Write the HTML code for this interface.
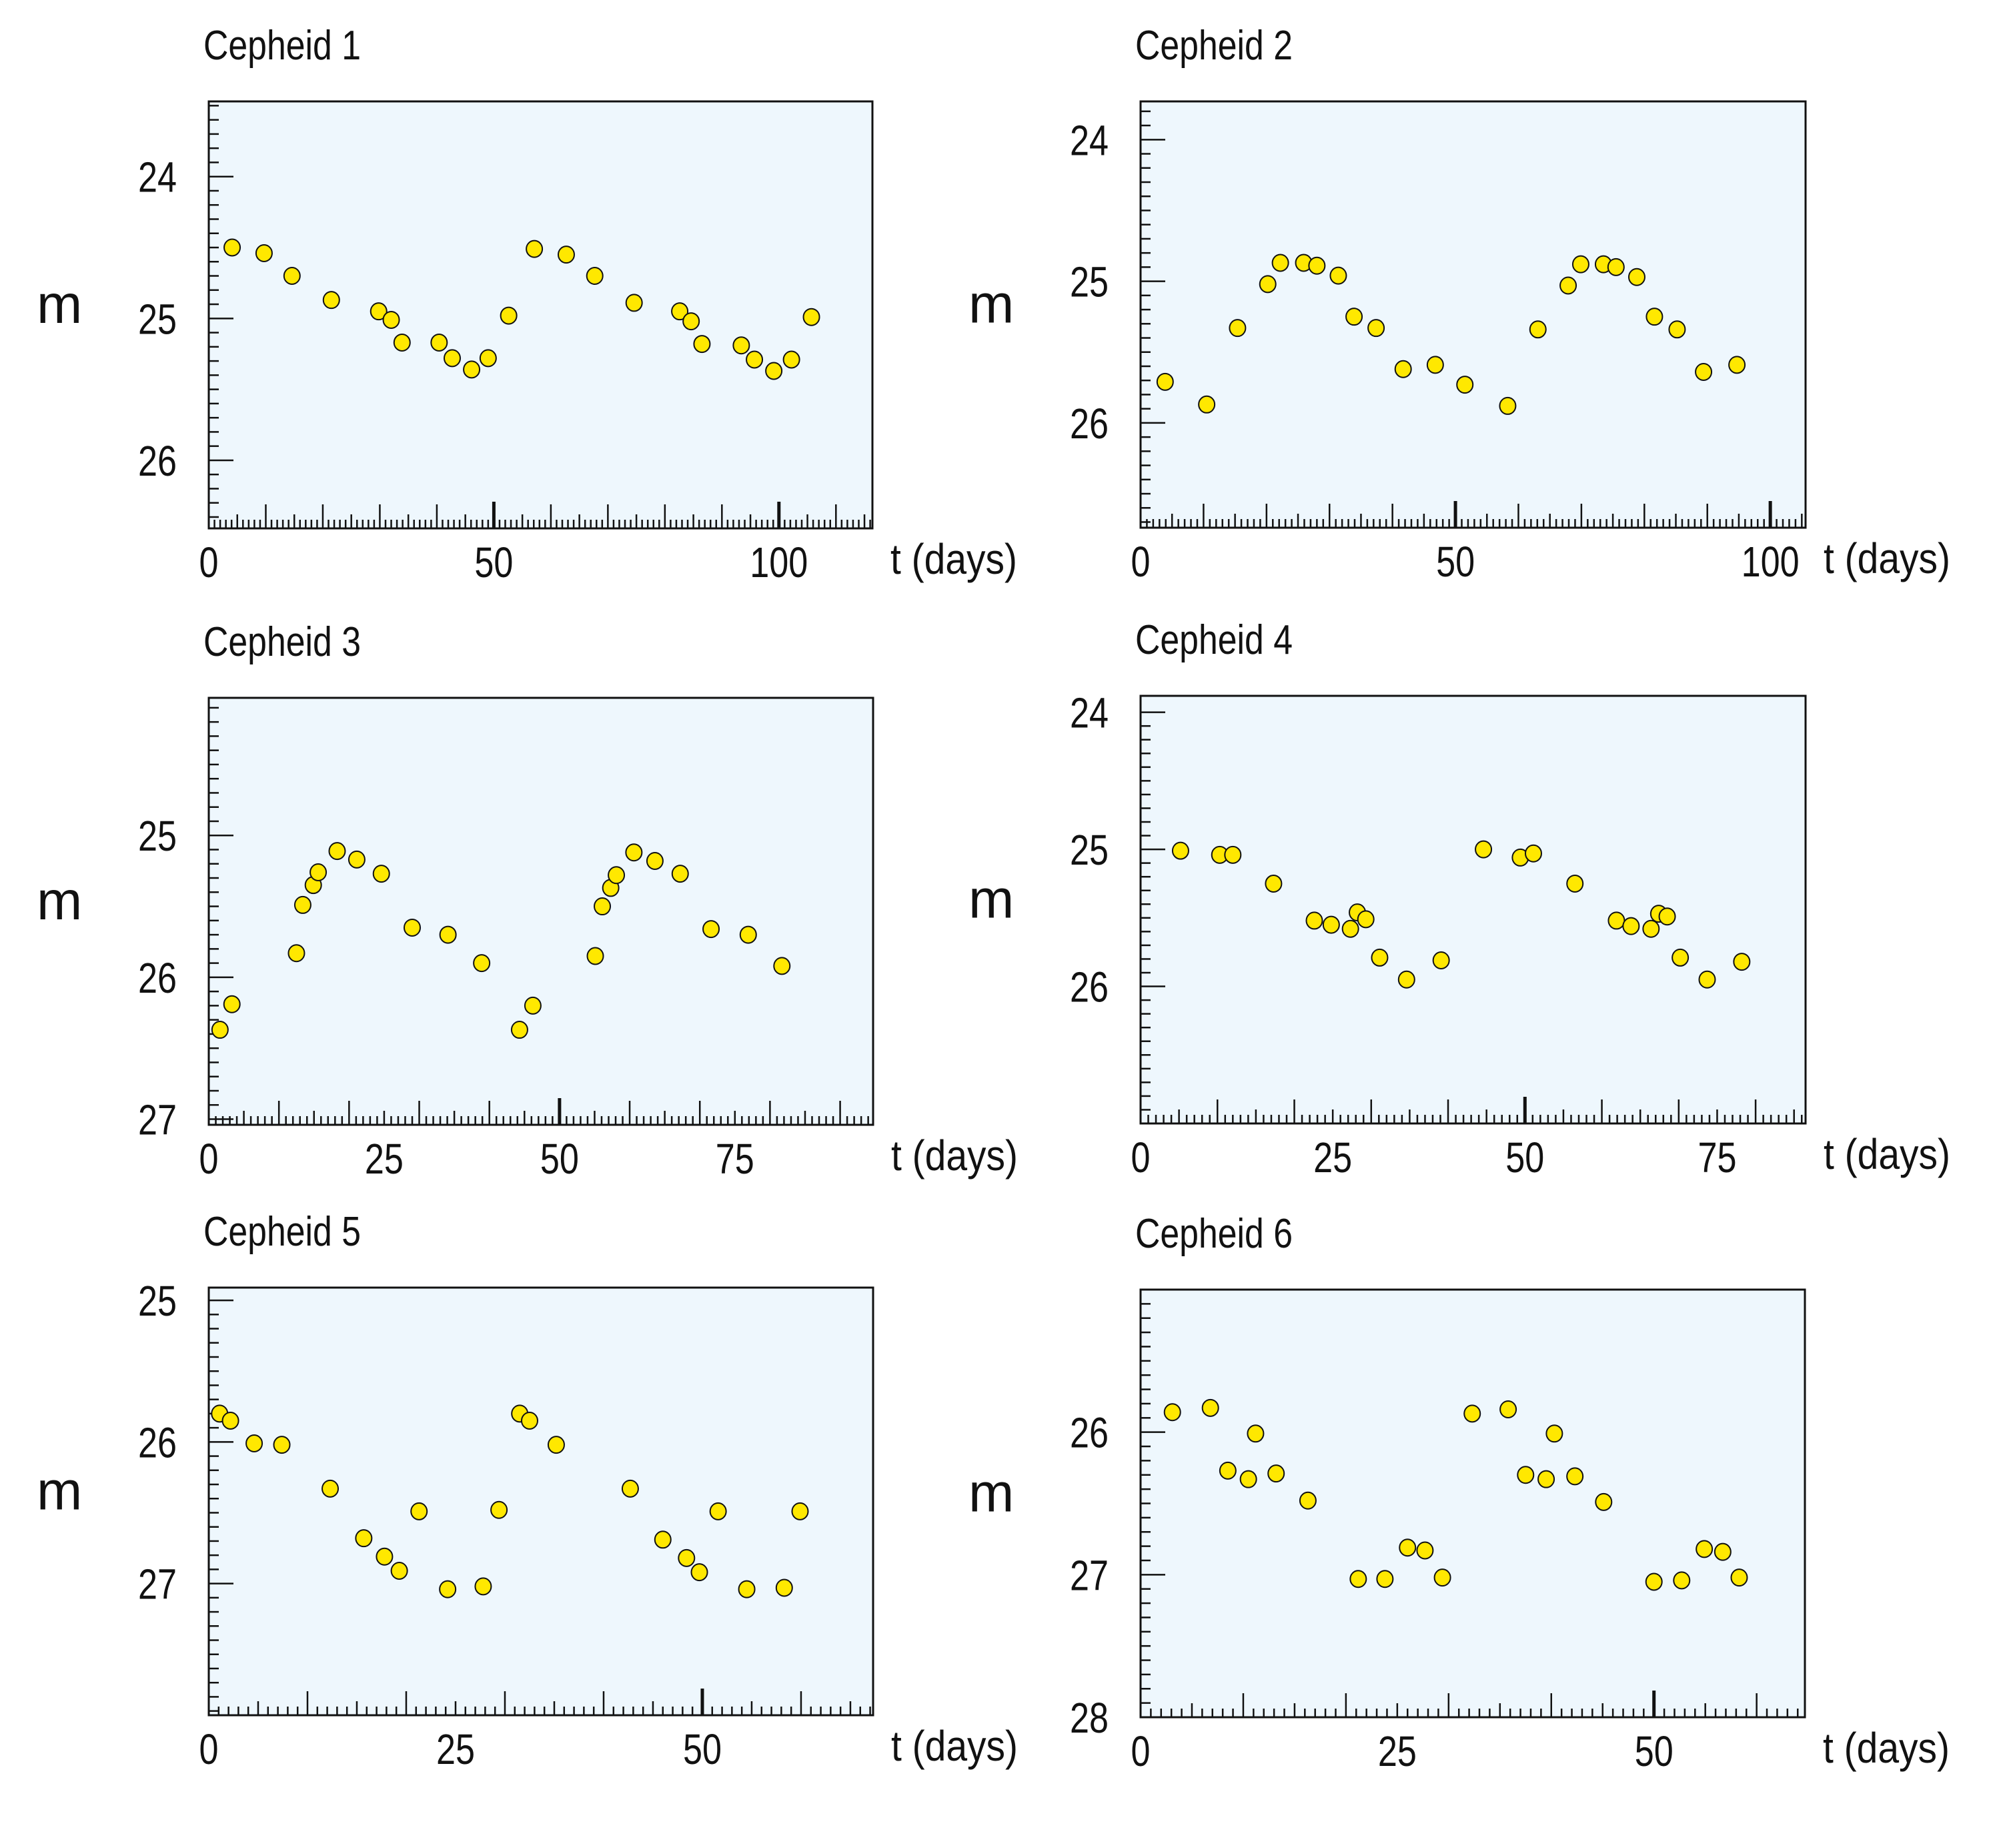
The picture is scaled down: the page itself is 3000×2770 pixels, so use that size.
<!DOCTYPE html>
<html><head><meta charset="utf-8"><title>Cepheid light curves</title>
<style>
html,body{margin:0;padding:0;background:#fff;}
svg{display:block;font-family:"Liberation Sans","DejaVu Sans",sans-serif;}
</style></head>
<body>
<svg id="chart" xmlns="http://www.w3.org/2000/svg" width="3000" height="2770" viewBox="0 0 3000 2770">
<rect x="0" y="0" width="3000" height="2770" fill="#ffffff"/>
</svg>
<script>
// ---- data ----
const c1Days = [4.1, 9.7, 14.6, 21.5, 29.8, 32.0, 33.9, 40.4, 42.7, 46.1, 49.0, 52.6, 57.1, 62.7, 67.7, 74.6, 82.6, 84.6, 86.5, 93.4, 95.7, 99.1, 102.2, 105.7];
const c1Mags = [24.50, 24.54, 24.70, 24.87, 24.95, 25.01, 25.17, 25.17, 25.28, 25.36, 25.28, 24.98, 24.51, 24.55, 24.70, 24.89, 24.95, 25.02, 25.18, 25.19, 25.29, 25.37, 25.29, 24.99];
const c2Days = [3.9, 10.5, 15.4, 20.2, 22.2, 25.9, 28.0, 31.4, 33.9, 37.4, 41.7, 46.8, 51.5, 58.3, 63.1, 67.9, 69.9, 73.5, 75.5, 78.8, 81.6, 85.2, 89.4, 94.7];
const c2Mags = [25.71, 25.87, 25.33, 25.02, 24.87, 24.87, 24.89, 24.96, 25.25, 25.33, 25.62, 25.59, 25.73, 25.88, 25.34, 25.03, 24.88, 24.88, 24.90, 24.97, 25.25, 25.34, 25.64, 25.59];
const c3Days = [1.6, 3.3, 12.5, 13.4, 14.9, 15.6, 18.3, 21.1, 24.6, 29.0, 34.1, 38.9, 44.3, 46.2, 55.1, 56.1, 57.3, 58.1, 60.6, 63.6, 67.2, 71.6, 76.9, 81.7];
const c3Mags = [26.37, 26.19, 25.83, 25.49, 25.35, 25.26, 25.11, 25.17, 25.27, 25.65, 25.70, 25.90, 26.37, 26.20, 25.85, 25.50, 25.37, 25.28, 25.12, 25.18, 25.27, 25.66, 25.70, 25.92];
const c4Days = [5.2, 10.3, 12.0, 17.3, 22.6, 24.8, 27.3, 28.2, 29.3, 31.1, 34.6, 39.1, 44.6, 49.4, 51.1, 56.5, 61.9, 63.8, 66.4, 67.4, 68.5, 70.2, 73.7, 78.2];
const c4Mags = [25.01, 25.04, 25.04, 25.25, 25.52, 25.55, 25.58, 25.46, 25.51, 25.79, 25.95, 25.81, 25.00, 25.06, 25.03, 25.25, 25.52, 25.56, 25.58, 25.47, 25.49, 25.79, 25.95, 25.82];
const c5Days = [1.1, 2.2, 4.6, 7.4, 12.3, 15.7, 17.8, 19.3, 21.3, 24.2, 27.8, 29.4, 31.5, 32.5, 35.2, 42.7, 46.0, 48.4, 49.7, 51.6, 54.5, 58.3, 59.9];
const c5Mags = [25.80, 25.85, 26.01, 26.02, 26.33, 26.68, 26.81, 26.91, 26.49, 27.04, 27.02, 26.48, 25.80, 25.85, 26.02, 26.33, 26.69, 26.82, 26.92, 26.49, 27.04, 27.03, 26.49];
const c6Days = [3.1, 6.8, 8.5, 10.5, 11.2, 13.2, 16.3, 21.2, 23.8, 26.0, 27.7, 29.4, 32.3, 35.8, 37.5, 39.5, 40.3, 42.3, 45.1, 50.0, 52.7, 54.9, 56.7, 58.3];
const c6Mags = [25.86, 25.83, 26.27, 26.33, 26.01, 26.29, 26.48, 27.03, 27.03, 26.81, 26.83, 27.02, 25.87, 25.84, 26.30, 26.33, 26.01, 26.31, 26.49, 27.05, 27.04, 26.82, 26.84, 27.02];
const c1XTicks = [0, 50, 100];
const c2XTicks = [0, 50, 100];
const c3XTicks = [0, 25, 50, 75];
const c4XTicks = [0, 25, 50, 75];
const c5XTicks = [0, 25, 50];
const c6XTicks = [0, 25, 50];
const c1YTicks = [24, 25, 26];
const c2YTicks = [24, 25, 26];
const c3YTicks = [25, 26, 27];
const c4YTicks = [24, 25, 26];
const c5YTicks = [25, 26, 27];
const c6YTicks = [26, 27, 28];
const titles = ["Cepheid 1", "Cepheid 2", "Cepheid 3", "Cepheid 4", "Cepheid 5", "Cepheid 6"];
const xMaxes = [116.4, 105.6, 94.7, 86.5, 67.3, 64.7];
const yMins = [23.47, 23.73, 24.03, 23.88, 24.91, 25.0];
const yMaxes = [26.48, 26.74, 27.04, 27.0, 27.93, 28.0];

// ---- layout (frames in pixels) ----
const frames = [
  {x:313, y:152, w:995, h:640},
  {x:1710, y:152, w:997, h:639},
  {x:313, y:1046, w:996, h:640},
  {x:1710, y:1043, w:997, h:641},
  {x:313, y:1930, w:996, h:641},
  {x:1710, y:1933, w:996, h:641}
];
const daysSets = [c1Days, c2Days, c3Days, c4Days, c5Days, c6Days];
const magSets = [c1Mags, c2Mags, c3Mags, c4Mags, c5Mags, c6Mags];
const xTickSets = [c1XTicks, c2XTicks, c3XTicks, c4XTicks, c5XTicks, c6XTicks];
const yTickSets = [c1YTicks, c2YTicks, c3YTicks, c4YTicks, c5YTicks, c6YTicks];

const NS = "http://www.w3.org/2000/svg";
const svg = document.getElementById("chart");
function mk(tag, attrs, parent) {
  const e = document.createElementNS(NS, tag);
  for (const k in attrs) e.setAttribute(k, attrs[k]);
  parent.appendChild(e);
  return e;
}

for (let p = 0; p < 6; p++) {
  const f = frames[p];
  const xScale = d => f.x + d / xMaxes[p] * f.w;
  const yScale = m => f.y + (m - yMins[p]) / (yMaxes[p] - yMins[p]) * f.h;

  const g = mk("g", {}, svg);
  
  

  const bg = mk("rect", {x:f.x, y:f.y, width:f.w, height:f.h, fill:"#eef7fd", stroke:"#111", "stroke-width":3}, g);
  
  

  // title
  const t = mk("text", {x:f.x - 8, y:f.y - 63, "font-size":62, fill:"#111", textLength:236, lengthAdjust:"spacingAndGlyphs"}, g);
  t.textContent = titles[p];
  
  

  // y label m
  const ml = mk("text", {x:f.x - 258, y:f.y + f.h / 2 + 12, "font-size":82, fill:"#111"}, g);
  ml.textContent = "m";
  
  

  // x label
  const xl = mk("text", {x:f.x + f.w + 27, y:f.y + f.h + 68, "font-size":64, fill:"#111", textLength:190, lengthAdjust:"spacingAndGlyphs"}, g);
  xl.textContent = "t (days)";
  
  

  // y ticks
  const yAxis = mk("g", {stroke:"#111", "stroke-width":2.5}, g);
  
  
  const yStart = Math.ceil(yMins[p] * 10 - 1e-6), yEnd = Math.floor(yMaxes[p] * 10 + 1e-6);
  for (let i = yStart; i <= yEnd; i++) {
    const v = i / 10;
    if (v - yMins[p] < 0.03 || yMaxes[p] - v < 0.03) continue;
    const yy = yScale(v);
    const len = (i % 10 === 0) ? 37 : 15;
    mk("line", {x1:f.x, x2:f.x + len, y1:yy, y2:yy}, yAxis);
  }
  yTickSets[p].forEach(v => {
    const lbl = mk("text", {x:f.x - 48, y:yScale(v) + 23, "font-size":64, fill:"#111", stroke:"none", "text-anchor":"end", textLength:58, lengthAdjust:"spacingAndGlyphs"}, g);
    lbl.textContent = String(v);
    
    
  });

  // x ticks
  const xAxis = mk("g", {stroke:"#111", "stroke-width":2.5}, g);
  
  
  const bottom = f.y + f.h;
  for (let d = 1; d <= Math.floor(xMaxes[p]); d++) {
    const xx = xScale(d);
    let len = 13, sw = 2.5;
    if (d % 50 === 0) { len = 40; sw = 5; }
    else if (d % 10 === 0) len = 36;
    else if (d % 5 === 0) len = 21;
    mk("line", {x1:xx, x2:xx, y1:bottom, y2:bottom - len, "stroke-width":sw}, xAxis);
  }
  xTickSets[p].forEach(v => {
    const w = String(v).length * 29;
    const lbl = mk("text", {x:xScale(v), y:bottom + 73, "font-size":64, fill:"#111", stroke:"none", "text-anchor":"middle", textLength:w, lengthAdjust:"spacingAndGlyphs"}, g);
    lbl.textContent = String(v);
    
    
  });

  // points
  const pts = mk("g", {}, g);
  
  
  const ds = daysSets[p], ms = magSets[p];
  for (let i = 0; i < ds.length; i++) {
    const c = mk("ellipse", {cx:xScale(ds[i]), cy:yScale(ms[i]), rx:12, ry:12.5, fill:"#ffe800", stroke:"#111", "stroke-width":2}, pts);
    
    
  }
}
</script>
</body></html>
